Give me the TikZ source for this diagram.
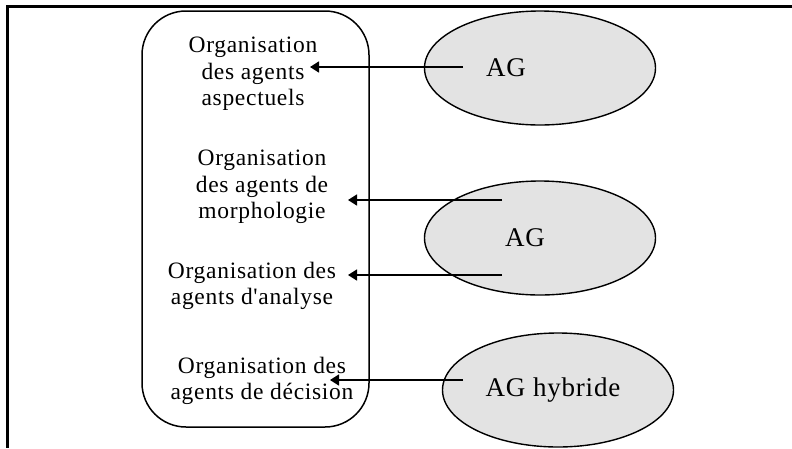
\documentclass[tikz,border=0pt]{standalone}
\usepackage{fontspec}
\setmainfont[LetterSpace=3,Ligatures=TeXOff]{Liberation Serif}
\usetikzlibrary{shapes.geometric,arrows.meta}

\begin{document}
\begin{tikzpicture}[x=1pt,y=-1pt,
  org/.style={align=center,inner sep=0pt,
    font=\fontsize{23.5}{26.5}\selectfont},
  agent/.style={ellipse,draw,line width=1.4pt,fill=gray!22,
    minimum width=231pt,minimum height=114pt},
  agtext/.style={inner sep=0pt,font=\fontsize{27}{30}\selectfont},
  link/.style={line width=1.6pt,-{Triangle[length=9pt,width=11pt]}}
  ]
  \useasboundingbox (0,0) rectangle (792,448);
  \draw [line width=2.2pt] (792,6.5) -- (7.5,6.5) -- (7.5,448);
  \draw [line width=1.5pt,rounded corners=44pt] (142,11) rectangle (369,427);

  \node [org] (org1) at (253,74) {Organisation\\des agents\\aspectuels};
  \node [org] (org2) at (262,187) {Organisation\\des agents de\\morphologie};
  \node [org] (org3) at (252,286) {Organisation des\\agents d'analyse};
  \node [org] (org4) at (262,381) {Organisation des\\agents de décision};

  \node [agent] (ag1) at (540,68) {};
  \node [agent] (ag2) at (540,238) {};
  \node [agent] (ag3) at (558,390) {};
  \node [agtext] (ag1t) at (506,68) {AG};
  \node [agtext] (ag2t) at (525,238) {AG};
  \node [agtext] (ag3t) at (553,390) {AG hybride};

  \coordinate (s1) at (463,67);
  \coordinate (e1) at (310,67);
  \coordinate (s2) at (502,200);
  \coordinate (e2) at (348,200);
  \coordinate (s3) at (502,275);
  \coordinate (e3) at (348,275);
  \coordinate (s4) at (463,380);
  \coordinate (e4) at (330,380);
  \draw [link] (s1) -- (e1);
  \draw [link] (s2) -- (e2);
  \draw [link] (s3) -- (e3);
  \draw [link] (s4) -- (e4);
\end{tikzpicture}
\end{document}
